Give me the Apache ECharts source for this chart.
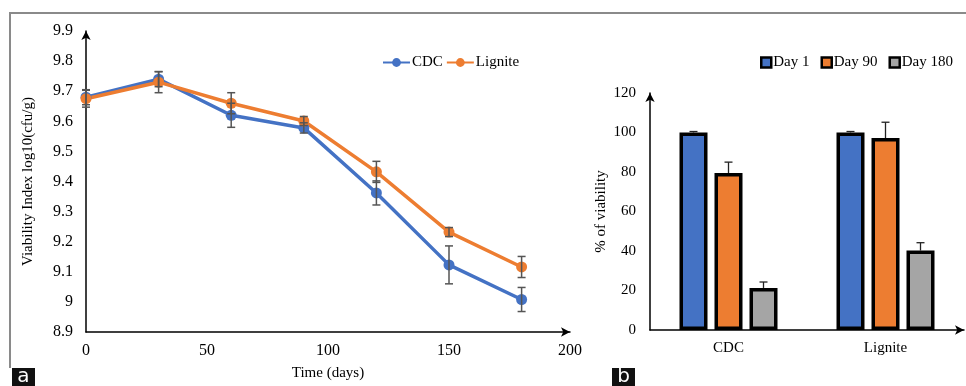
<!DOCTYPE html>
<html>
<head>
<meta charset="utf-8">
<script src="https://cdn.jsdelivr.net/npm/echarts@6/dist/echarts.min.js"></script>
<style>
  html, body { margin: 0; padding: 0; background: #fff; }
  #main { width: 966px; height: 386px; }
</style>
</head>
<body>
<div id="main"></div>
<script>
// panel a: viability over time
var days = [0, 30, 60, 90, 120, 150, 180];
var cdcLog = [9.68, 9.74, 9.62, 9.578, 9.362, 9.123, 9.008];
var cdcErr = [0.025, 0.025, 0.04, 0.017, 0.04, 0.063, 0.04];
var ligLog = [9.675, 9.73, 9.66, 9.601, 9.432, 9.232, 9.116];
var ligErr = [0.028, 0.035, 0.035, 0.015, 0.035, 0.015, 0.035];

// panel b: % viability
var carriers = ['CDC', 'Lignite'];
var dayNames = ['Day 1', 'Day 90', 'Day 180'];
var day1 = [100, 100];
var day90 = [79.5, 97.2];
var day180 = [21.3, 40.2];
var day1Err = [0.5, 0.5];
var day90Err = [5.5, 8];
var day180Err = [3, 4];

var blue = '#4472C4', orange = '#ED7D31', grey = '#A5A5A5';
var font = 'Liberation Serif';
var barW = 28, barStep = 35;

var myChart = echarts.init(document.getElementById('main'));

function pairs(xs, ys) {
    return xs.map(function (x, i) { return [x, ys[i]]; });
}
function errRows(xs, ys, es) {
    return xs.map(function (x, i) { return [x, ys[i] - es[i], ys[i] + es[i]]; });
}

// vertical error bar with caps
function lineErr(params, api) {
    var top = api.coord([api.value(0), api.value(2)]);
    var bot = api.coord([api.value(0), api.value(1)]);
    var st = { stroke: '#555', lineWidth: 1.5 };
    return {
        type: 'group',
        children: [
            { type: 'line', shape: { x1: top[0], y1: top[1], x2: bot[0], y2: bot[1] }, style: st },
            { type: 'line', shape: { x1: top[0] - 4, y1: top[1], x2: top[0] + 4, y2: top[1] }, style: st },
            { type: 'line', shape: { x1: bot[0] - 4, y1: bot[1], x2: bot[0] + 4, y2: bot[1] }, style: st }
        ]
    };
}

function barErr(slot) {
    return function (params, api) {
        var base = api.coord([api.value(0), api.value(1)]);
        var top = api.coord([api.value(0), api.value(1) + api.value(2)]);
        var x = base[0] + (slot - 1) * barStep;
        var st = { stroke: '#222', lineWidth: 1.3 };
        return {
            type: 'group',
            children: [
                { type: 'line', shape: { x1: x, y1: base[1], x2: x, y2: top[1] }, style: st },
                { type: 'line', shape: { x1: x - 4, y1: top[1], x2: x + 4, y2: top[1] }, style: st }
            ]
        };
    };
}

var txtA = { color: '#000', fontFamily: font, fontSize: 16 };
var txtB = { color: '#000', fontFamily: font, fontSize: 15 };
var arrowLine = { lineStyle: { color: '#000', width: 1.5 }, symbol: ['none', 'arrow'], symbolSize: [7, 9] };

var option = {
    animation: false,
    backgroundColor: '#fff',
    textStyle: { fontFamily: font },
    grid: [
        { left: 86, top: 31, width: 484, height: 301 },
        { left: 650, top: 93, width: 314, height: 237 }
    ],
    legend: [
        {
            data: ['CDC', 'Lignite'],
            left: 377, top: 50,
            itemWidth: 27, itemHeight: 11, itemGap: 3,
            textStyle: { color: '#000', fontFamily: font, fontSize: 15, padding: [0, 0, 0, -3] }
        },
        {
            data: dayNames.map(function (n) { return { name: n, itemStyle: { borderColor: '#000', borderWidth: 2.5 } }; }),
            left: 755, top: 50,
            icon: 'rect',
            itemWidth: 10, itemHeight: 10, itemGap: 11,
            textStyle: { color: '#000', fontFamily: font, fontSize: 15, padding: [0, 0, 0, -3] }
        }
    ],
    xAxis: [
        {
            type: 'value', gridIndex: 0, min: 0, max: 200, interval: 50,
            name: 'Time (days)', nameLocation: 'middle', nameGap: 34,
            nameTextStyle: txtB,
            axisLine: arrowLine,
            axisTick: { show: false },
            splitLine: { show: false },
            axisLabel: Object.assign({ margin: 11 }, txtA)
        },
        {
            type: 'category', gridIndex: 1, data: carriers,
            axisLine: arrowLine,
            axisTick: { show: false },
            axisLabel: Object.assign({ margin: 11 }, txtB)
        }
    ],
    yAxis: [
        {
            type: 'value', gridIndex: 0, min: 8.9, max: 9.9, interval: 0.1,
            name: 'Viability Index log10(cfu/g)', nameLocation: 'middle', nameGap: 50,
            nameTextStyle: txtB,
            axisLine: Object.assign({ show: true }, arrowLine),
            axisTick: { show: false },
            splitLine: { show: false },
            axisLabel: Object.assign({
                margin: 13,
                formatter: function (v) { return String(+v.toFixed(1)); }
            }, txtA)
        },
        {
            type: 'value', gridIndex: 1, min: 0, max: 120, interval: 20,
            name: '% of viability', nameLocation: 'middle', nameGap: 41,
            nameTextStyle: txtB,
            axisLine: Object.assign({ show: true }, arrowLine),
            axisTick: { show: false },
            splitLine: { show: false },
            axisLabel: Object.assign({ margin: 14 }, txtB)
        }
    ],
    series: [
        {
            name: 'CDC', type: 'line', xAxisIndex: 0, yAxisIndex: 0,
            data: pairs(days, cdcLog),
            symbol: 'circle', symbolSize: 11,
            lineStyle: { color: blue, width: 3.5 },
            itemStyle: { color: blue }
        },
        {
            name: 'Lignite', type: 'line', xAxisIndex: 0, yAxisIndex: 0,
            data: pairs(days, ligLog),
            symbol: 'circle', symbolSize: 11,
            lineStyle: { color: orange, width: 3.5 },
            itemStyle: { color: orange }
        },
        {
            type: 'custom', xAxisIndex: 0, yAxisIndex: 0, z: 5,
            data: errRows(days, cdcLog, cdcErr), renderItem: lineErr
        },
        {
            type: 'custom', xAxisIndex: 0, yAxisIndex: 0, z: 5,
            data: errRows(days, ligLog, ligErr), renderItem: lineErr
        },
        {
            name: 'Day 1', type: 'bar', xAxisIndex: 1, yAxisIndex: 1, data: day1,
            barWidth: barW, barGap: ((barStep - barW) / barW * 100) + '%',
            itemStyle: { color: blue, borderColor: '#000', borderWidth: 3.5 }
        },
        {
            name: 'Day 90', type: 'bar', xAxisIndex: 1, yAxisIndex: 1, data: day90,
            barWidth: barW,
            itemStyle: { color: orange, borderColor: '#000', borderWidth: 3.5 }
        },
        {
            name: 'Day 180', type: 'bar', xAxisIndex: 1, yAxisIndex: 1, data: day180,
            barWidth: barW,
            itemStyle: { color: grey, borderColor: '#000', borderWidth: 3.5 }
        },
        {
            type: 'custom', xAxisIndex: 1, yAxisIndex: 1, z: 5,
            data: carriers.map(function (c, i) { return [i, day1[i], day1Err[i]]; }), renderItem: barErr(0)
        },
        {
            type: 'custom', xAxisIndex: 1, yAxisIndex: 1, z: 5,
            data: carriers.map(function (c, i) { return [i, day90[i], day90Err[i]]; }), renderItem: barErr(1)
        },
        {
            type: 'custom', xAxisIndex: 1, yAxisIndex: 1, z: 5,
            data: carriers.map(function (c, i) { return [i, day180[i], day180Err[i]]; }), renderItem: barErr(2)
        }
    ],
    graphic: [
        { type: 'line', shape: { x1: 10, y1: 13, x2: 966, y2: 13 }, style: { stroke: '#8a8a8a', lineWidth: 2 } },
        { type: 'line', shape: { x1: 10, y1: 12, x2: 10, y2: 368 }, style: { stroke: '#8a8a8a', lineWidth: 2 } },
        { type: 'rect', shape: { x: 12, y: 368, width: 23, height: 18 }, style: { fill: '#111' } },
        { type: 'text', x: 23.5, y: 377, style: { text: 'a', fill: '#fff', font: '20px "DejaVu Sans"', align: 'center', verticalAlign: 'middle' } },
        { type: 'rect', shape: { x: 612, y: 368, width: 23, height: 18 }, style: { fill: '#111' } },
        { type: 'text', x: 623.5, y: 377, style: { text: 'b', fill: '#fff', font: '20px "DejaVu Sans"', align: 'center', verticalAlign: 'middle' } }
    ]
};

myChart.setOption(option);
window.onresize = function () { myChart.resize(); };
</script>
</body>
</html>
